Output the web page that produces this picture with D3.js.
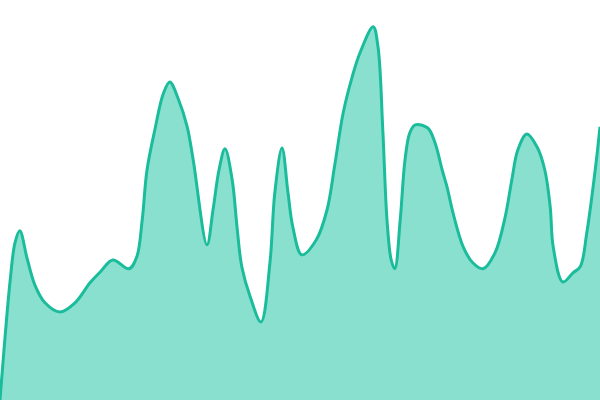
<!DOCTYPE html>
<html>
<head>
<meta charset="utf-8">
<script src="https://cdn.jsdelivr.net/npm/d3@7"></script>
<style>
  body { margin: 0; background: #fff; }
  #chart { width: 600px; height: 400px; }
</style>
</head>
<body>
<div id="chart"></div>
<script>
// positions along the series (0-100) and their values (0-100)
var positions = [0, 1.7, 2.5, 3.3, 4.5, 5.8, 7.5, 10, 12.5, 15, 16.7, 18.8, 21.5, 22.8, 23.7,
  24.5, 25.8, 27.2, 28.3, 29.7, 31.2, 32.2, 34.5, 35.5, 36.5, 37.5, 38.7, 39.5, 40.3,
  41.7, 43.5, 45, 45.8, 47, 48, 48.8, 50.3, 52.7, 54.5, 55.8, 57.2, 58.7, 60, 62.2, 63,
  63.8, 64.5, 65.2, 65.8, 66.7, 67.5, 68.3, 69.2, 71.3, 72.5, 73.7, 74.5, 75.5, 77.2,
  78.8, 80.5, 82.5, 84.2, 85.3, 86.3, 87.8, 89.5, 90.8, 91.7, 92.2, 93.8, 95.5, 96.7,
  97.8, 99.2, 100];
var values = [0, 30, 39.3, 42.3, 35.5, 28.8, 24.3, 22, 24.3, 29.3, 32, 35, 32.8, 35.8, 45,
  57.5, 67.5, 76.5, 79.5, 75.3, 68.3, 60, 38.8, 47.5, 57.5, 62.8, 55, 43.3, 33.3,
  25.8, 19.5, 34.5, 51.8, 63, 51.8, 43.3, 36.3, 40, 47.5, 58.8, 71.8, 80.8, 86.8, 93.3, 88.3,
  67.5, 45, 35, 32.8, 45, 60, 66.8, 68.8, 68, 64.3, 57.5, 53.3, 46.8, 38.3,
  34.3, 32.8, 36.8, 45.8, 55, 62.5, 66.5, 63.3, 57.5, 48.3, 38.3, 29.5, 31.8, 33.3,
  41.8, 57.5, 68.3];

var width = 600, height = 400;

var data = positions.map(function(p, i) {
  return { pos: p, value: values[i] };
});

var svg = d3.select("#chart")
  .append("svg")
  .attr("width", width)
  .attr("height", height);

// scales
var xScale = d3.scaleLinear().domain([0, 100]).range([0, width]);
var yScale = d3.scaleLinear().domain([0, 100]).range([height, 0]);

var curve = d3.curveCatmullRom.alpha(0.5);

// area fill
var area = d3.area()
  .x(function(d) { return xScale(d.pos); })
  .y0(yScale(0))
  .y1(function(d) { return yScale(d.value); })
  .curve(curve);

var line = d3.line()
  .x(function(d) { return xScale(d.pos); })
  .y(function(d) { return yScale(d.value); })
  .curve(curve);

svg.append("path")
  .datum(data)
  .attr("d", area)
  .style("fill", "#8ae0cf");

svg.append("path")
  .datum(data)
  .attr("d", line)
  .style("fill", "none")
  .style("stroke", "#1abc9c")
  .style("stroke-width", 3)
  .style("stroke-linejoin", "round");
</script>
</body>
</html>
